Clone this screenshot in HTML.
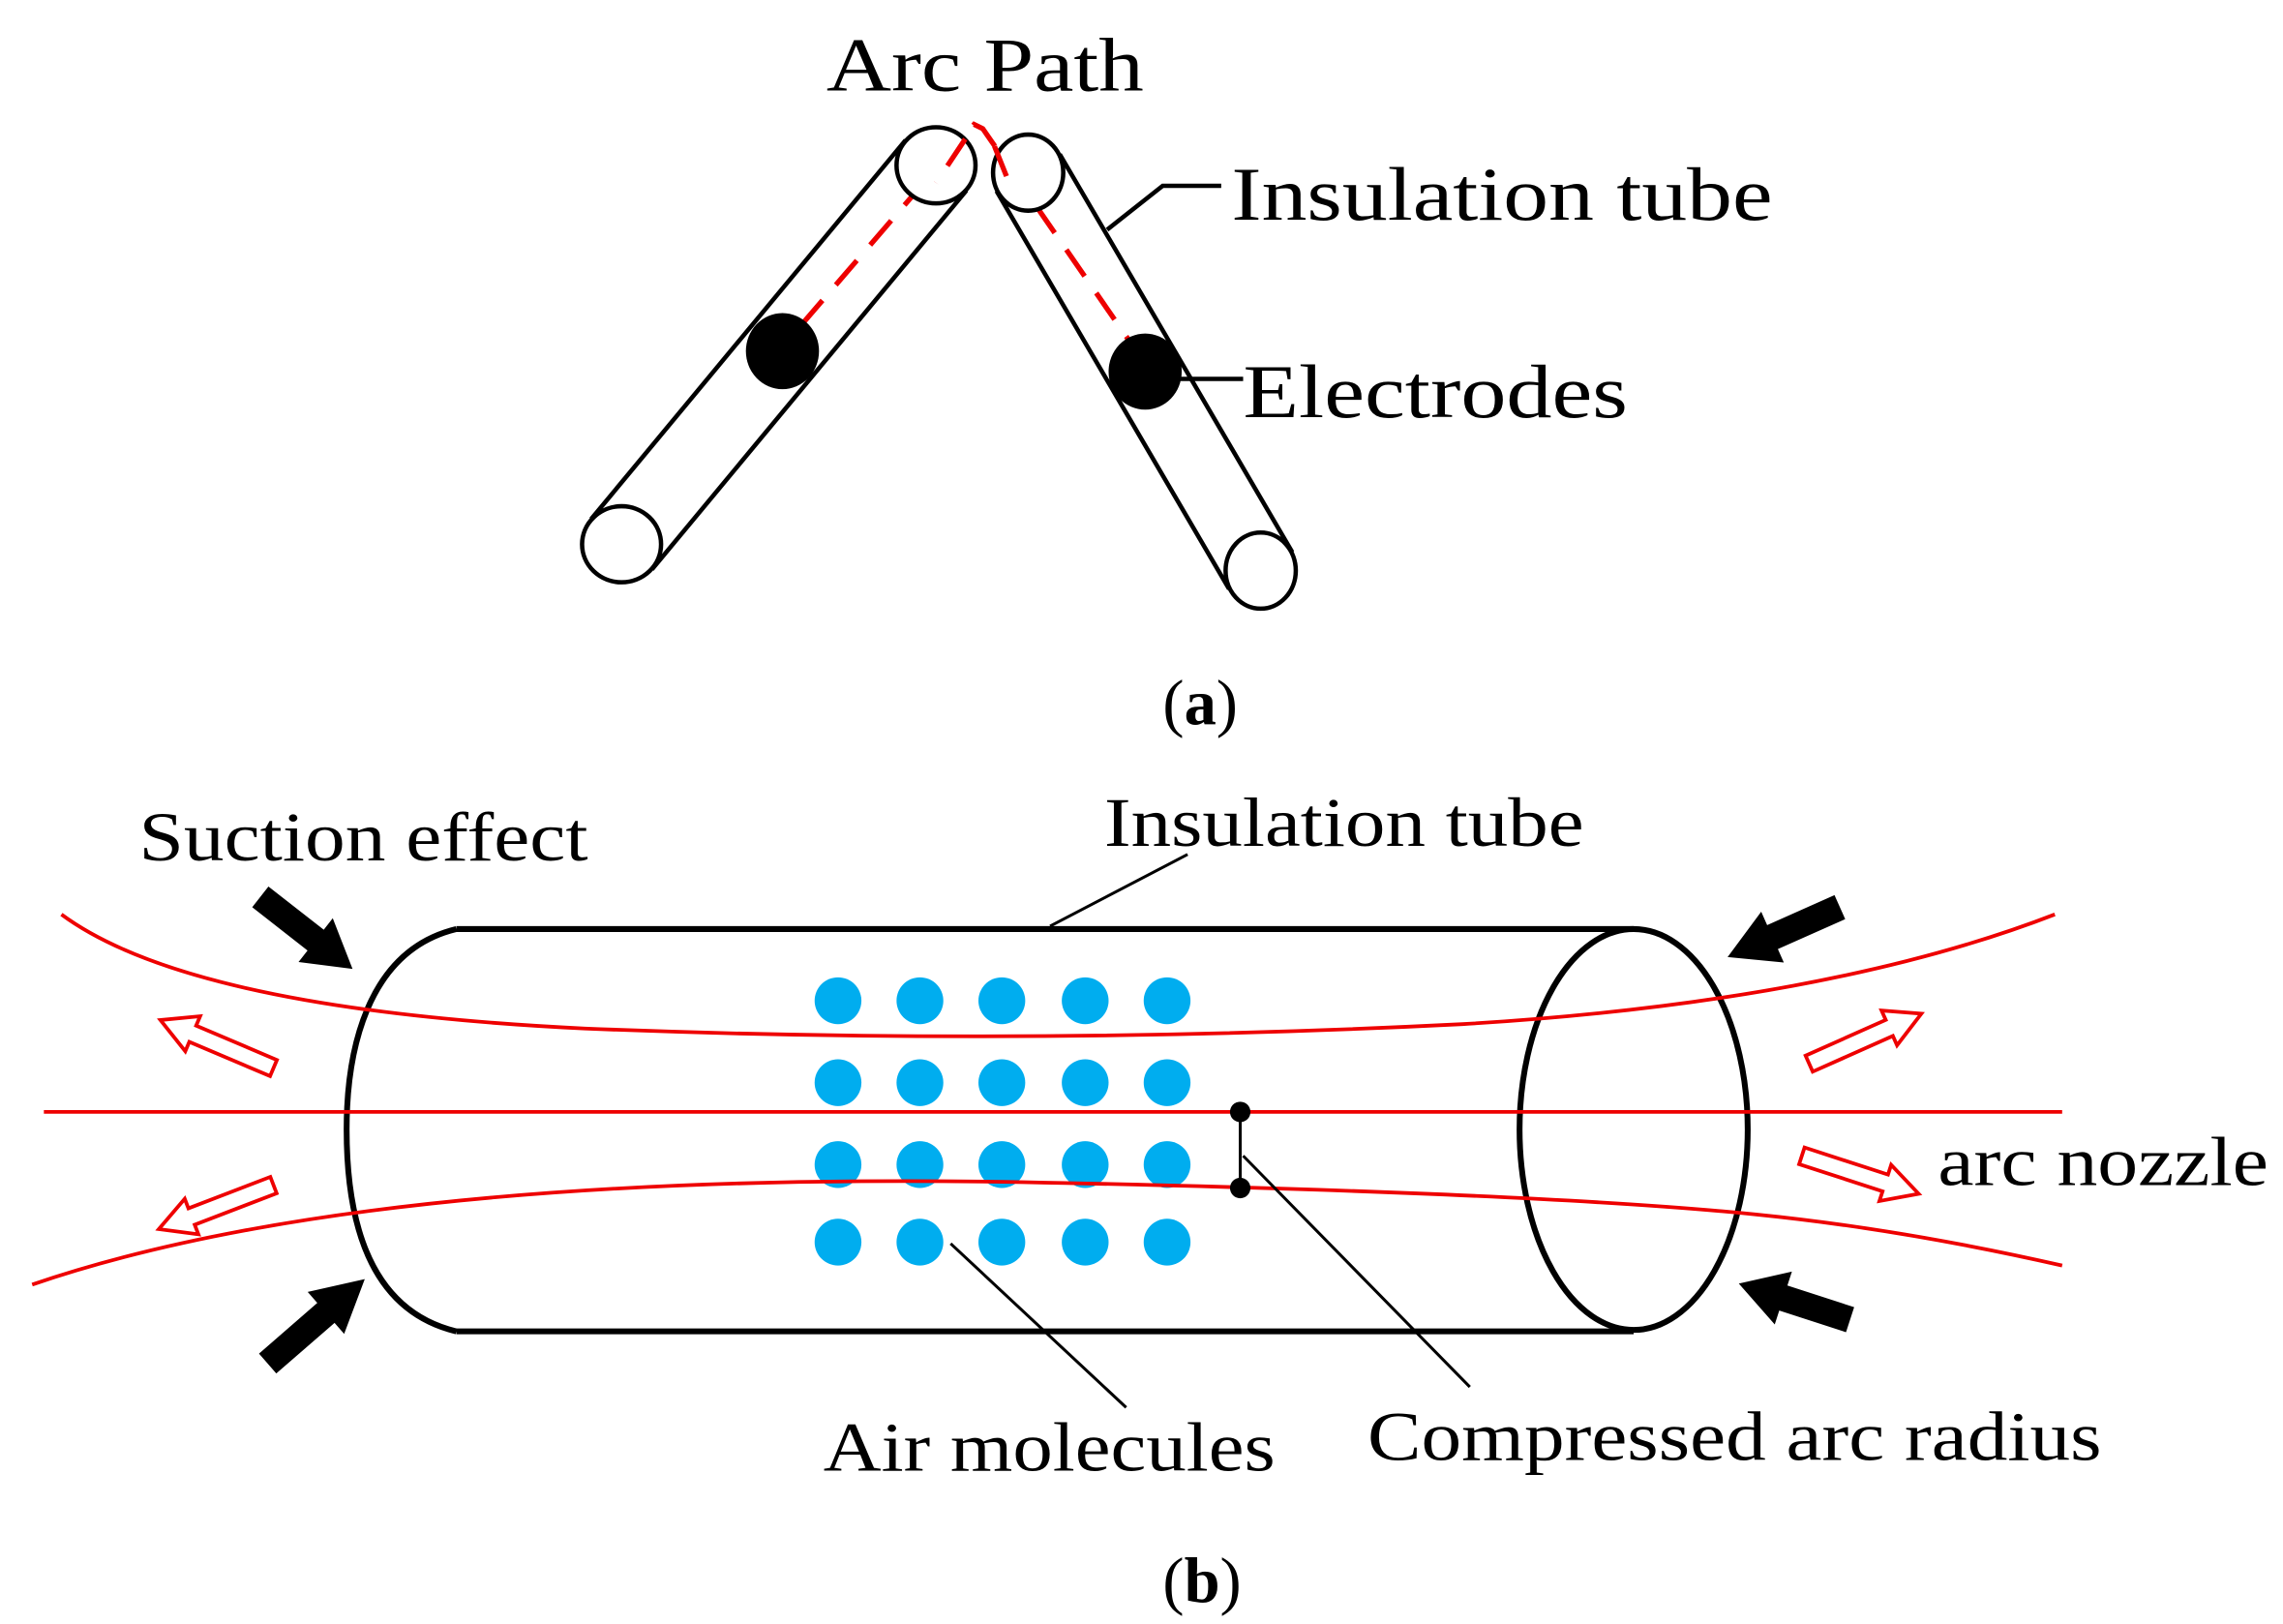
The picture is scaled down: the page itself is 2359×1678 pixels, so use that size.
<!DOCTYPE html>
<html><head><meta charset="utf-8"><style>
html,body{margin:0;padding:0;background:#fff;}
svg{display:block;}
text{font-family:"Liberation Serif",serif;fill:#000;}
</style></head><body>
<svg width="2359" height="1678" viewBox="0 0 1561 1110" preserveAspectRatio="none" xmlns="http://www.w3.org/2000/svg">
<defs>
<path id="blk" d="M0,-9 L48,-9 L48,-19 L80,0 L48,19 L48,9 L0,9 Z"/>
<path id="red" d="M0,-6 L60,-6 L60,-13 L84,0 L60,13 L60,6 L0,6 Z"/>
</defs>
<!-- (a) -->
<text x="565" y="62" font-size="52" textLength="217" lengthAdjust="spacingAndGlyphs">Arc Path</text>
<text x="842" y="150" font-size="52" textLength="370" lengthAdjust="spacingAndGlyphs">Insulation tube</text>
<text x="850" y="285" font-size="52" textLength="263" lengthAdjust="spacingAndGlyphs">Electrodes</text>
<text x="795" y="495" font-size="44">(<tspan font-weight="bold">a</tspan>)</text>
<g stroke="#000" stroke-width="3" fill="none">
<line x1="660.8" y1="130.2" x2="445.8" y2="389.2"/>
<line x1="619.2" y1="95.8" x2="404.2" y2="354.8"/>
<line x1="724.6" y1="105.4" x2="883.6" y2="377.4"/>
<line x1="681.4" y1="130.6" x2="840.4" y2="402.6"/>
<polyline points="757,157 795,127 835,127"/>
<line x1="806" y1="259" x2="850" y2="259"/>
</g>
<g stroke="#e00" stroke-width="3.5" fill="none" stroke-dasharray="22,14">
<polyline points="548,222 666,85 672,88 777,240"/>
</g>
<g stroke="#000" stroke-width="3" fill="#fff">
<ellipse cx="640" cy="113" rx="27" ry="26"/>
<ellipse cx="425" cy="372" rx="27" ry="26"/>
<ellipse cx="703" cy="118" rx="24" ry="26"/>
<ellipse cx="862" cy="390" rx="24" ry="26"/>
</g>
<g stroke="#e00" stroke-width="3.5" fill="none" stroke-dasharray="22,14">
<line x1="660" y1="95" x2="640" y2="125"/>
<line x1="680" y1="100" x2="690" y2="125"/>
</g>
<ellipse cx="535" cy="240" rx="25" ry="26" fill="#000"/>
<ellipse cx="783" cy="254" rx="25" ry="26" fill="#000"/>
<!-- (b) -->
<text x="95" y="588" font-size="48" textLength="307" lengthAdjust="spacingAndGlyphs">Suction effect</text>
<text x="755" y="578" font-size="48" textLength="328" lengthAdjust="spacingAndGlyphs">Insulation tube</text>
<text x="1325" y="810" font-size="48" textLength="226" lengthAdjust="spacingAndGlyphs">arc nozzle</text>
<text x="563" y="1005" font-size="48" textLength="309" lengthAdjust="spacingAndGlyphs">Air molecules</text>
<text x="935" y="998" font-size="48" textLength="502" lengthAdjust="spacingAndGlyphs">Compressed arc radius</text>
<text x="795" y="1095" font-size="44">(<tspan font-weight="bold">b</tspan>)</text>
<g stroke="#000" stroke-width="4" fill="none">
<path d="M312,635 L1117,635 M312,910 L1117,910"/>
<path d="M312,635 C250,650 237,720 237,772 C237,830 250,895 312,910"/>
<ellipse cx="1117" cy="772" rx="78" ry="137"/>
</g>
<g fill="#00adef">
<circle cx="573" cy="684" r="16"/><circle cx="629" cy="684" r="16"/><circle cx="685" cy="684" r="16"/><circle cx="742" cy="684" r="16"/><circle cx="798" cy="684" r="16"/>
<circle cx="573" cy="740" r="16"/><circle cx="629" cy="740" r="16"/><circle cx="685" cy="740" r="16"/><circle cx="742" cy="740" r="16"/><circle cx="798" cy="740" r="16"/>
<circle cx="573" cy="796" r="16"/><circle cx="629" cy="796" r="16"/><circle cx="685" cy="796" r="16"/><circle cx="742" cy="796" r="16"/><circle cx="798" cy="796" r="16"/>
<circle cx="573" cy="849" r="16"/><circle cx="629" cy="849" r="16"/><circle cx="685" cy="849" r="16"/><circle cx="742" cy="849" r="16"/><circle cx="798" cy="849" r="16"/>
</g>
<g stroke="#e00" stroke-width="2.5" fill="none">
<line x1="30" y1="760" x2="1410" y2="760"/>
<path d="M42,625 Q130,690 400,703 Q700,715 1000,700 Q1250,685 1405,625"/>
<path d="M22,878 Q250,800 700,808 Q1050,815 1200,830 Q1300,840 1410,865"/>
</g>
<g stroke="#000" stroke-width="2" fill="none">
<line x1="848" y1="760" x2="848" y2="812"/>
<line x1="850" y1="790" x2="1005" y2="948"/>
<line x1="650" y1="850" x2="770" y2="962"/>
<line x1="812" y1="584" x2="718" y2="633"/>
</g>
<circle cx="848" cy="760" r="7" fill="#000"/>
<circle cx="848" cy="812" r="7" fill="#000"/>
<g fill="#000">
<use href="#blk" transform="translate(178,613) rotate(38)"/>
<use href="#blk" transform="translate(183,932) rotate(-41) scale(1.1,1)"/>
<use href="#blk" transform="translate(1258,620) rotate(156) scale(1.05,1)"/>
<use href="#blk" transform="translate(1265,902) rotate(198)"/>
</g>
<g fill="#fff" stroke="#e00" stroke-width="2.5">
<use href="#red" transform="translate(187,730) rotate(203)"/>
<use href="#red" transform="translate(187,810) rotate(159)"/>
<use href="#red" transform="translate(1237,727) rotate(-24)"/>
<use href="#red" transform="translate(1232,790) rotate(18)"/>
</g>
</svg>
</body></html>
